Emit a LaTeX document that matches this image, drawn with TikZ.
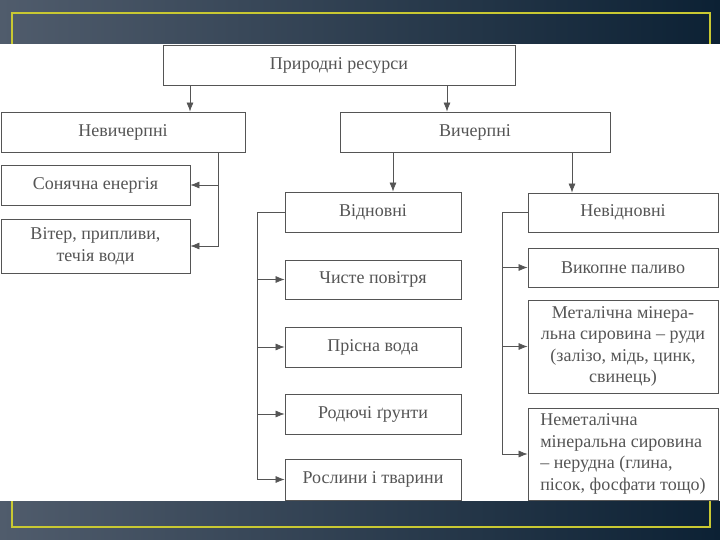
\documentclass[tikz,border=0pt]{standalone}
\usepackage{fontspec}
\setmainfont{Liberation Serif}
\usetikzlibrary{arrows.meta}
\definecolor{bgleft}{RGB}{80,92,108}
\definecolor{bgright}{RGB}{12,33,52}
\definecolor{frameyel}{RGB}{200,200,50}
\definecolor{ink}{RGB}{85,85,85}

\begin{document}
\begin{tikzpicture}[x=1pt,y=-1pt,
  box/.style={draw=ink,line width=0.8pt,text=ink,inner sep=2pt,font=\fontsize{18}{21.6}\selectfont},
  arr/.style={draw=ink,line width=0.7pt,-{Latex[length=9pt,width=7pt]}}]
  % фон
  \shade[left color=bgleft,right color=bgright] (0,0) rectangle (720,540);
  \draw[frameyel,line width=1.5pt] (12,13) rectangle (710,527);
  \fill[white] (0,44) rectangle (720,501);
  % верхні рівні
  \node[box,minimum width=352pt,minimum height=40pt] (res) at (339,65) {Природні ресурси};
  \node[box,minimum width=244pt,minimum height=40pt] (nev) at (123,132) {Невичерпні};
  \node[box,minimum width=270pt,minimum height=40pt] (vych) at (475,132) {Вичерпні};
  % невичерпні
  \node[box,minimum width=189pt,minimum height=40pt] (son) at (95.5,185) {Сонячна енергія};
  \node[box,minimum width=189pt,minimum height=54pt,align=center] (vit) at (95.5,246) {Вітер, припливи,\\ течія води};
  % відновні
  \node[box,minimum width=176pt,minimum height=40pt] (vidn) at (373,212) {Відновні};
  \node[box,minimum width=176pt,minimum height=39pt] (chys) at (373,279.5) {Чисте повітря};
  \node[box,minimum width=176pt,minimum height=40pt] (pris) at (373,347) {Прісна вода};
  \node[box,minimum width=176pt,minimum height=40pt] (rod) at (373,414) {Родючі ґрунти};
  \node[box,minimum width=176pt,minimum height=41pt] (rosl) at (373,479.5) {Рослини і тварини};
  % невідновні
  \node[box,minimum width=190pt,minimum height=39pt] (nevidn) at (623,212.5) {Невідновні};
  \node[box,minimum width=190pt,minimum height=39pt] (vyk) at (623,267.5) {Викопне паливо};
  \node[box,minimum width=190pt,minimum height=93pt,align=center] (met) at (623,346.5) {Металічна мінера-\\льна сировина -- руди\\(залізо, мідь, цинк,\\свинець)};
  \node[box,minimum width=190pt,minimum height=92pt,align=left] (nemet) at (623,454) {Неметалічна\\мінеральна сировина\\-- нерудна (глина,\\пісок, фосфати тощо)};
  % точки розгалуження
  \coordinate (a1) at (190,0);
  \coordinate (a2) at (447,0);
  \coordinate (a3) at (393,0);
  \coordinate (a4) at (572,0);
  \coordinate (b1) at (218,0);
  \coordinate (b2) at (257,0);
  \coordinate (b3) at (502,0);
  % стрілки
  \draw[arr] (res.south -| a1) -- (nev.north -| a1);
  \draw[arr] (res.south -| a2) -- (vych.north -| a2);
  \draw[arr] (vych.south -| a3) -- (vidn.north -| a3);
  \draw[arr] (vych.south -| a4) -- (nevidn.north -| a4);
  \draw[arr] (nev.south -| b1) |- (vit.east);
  \draw[arr] (b1 |- son.east) -- (son.east);
  \draw[arr] (vidn.west) -- (vidn.west -| b2) |- (rosl.west);
  \foreach \n in {chys,pris,rod} \draw[arr] (\n.west -| b2) -- (\n.west);
  \draw[arr] (nevidn.west) -- (nevidn.west -| b3) |- (nemet.west);
  \foreach \n in {vyk,met} \draw[arr] (\n.west -| b3) -- (\n.west);
\end{tikzpicture}
\end{document}
